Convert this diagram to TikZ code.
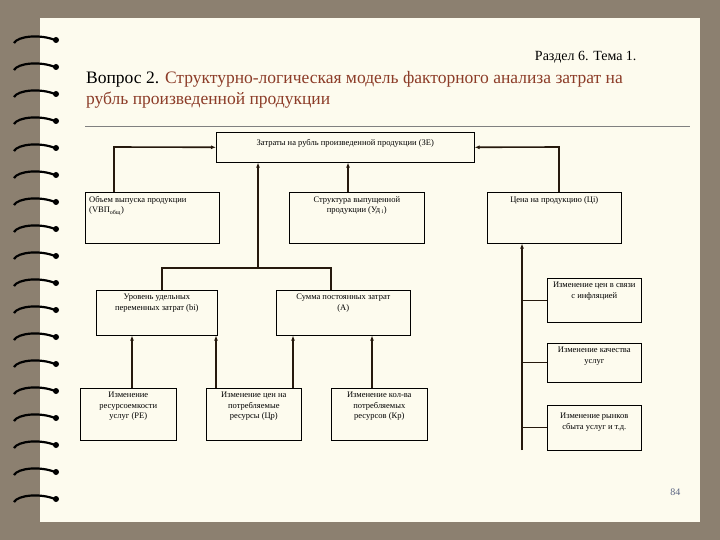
\documentclass[tikz,border=0pt]{standalone}
\usepackage{fontspec}
\setmainfont{Liberation Serif}
\usetikzlibrary{arrows.meta}
\begin{document}
\begin{tikzpicture}[x=1pt,y=-1pt,
 bx/.style={draw=black,fill=none,line width=0.6pt,inner sep=0pt,anchor=north west},
 tx/.style={anchor=north,align=center,font=\fontsize{8.5}{10.5}\selectfont,inner sep=0pt,yshift=-4pt},
 ln/.style={draw=black!80!brown,line width=1.6pt},
 ar/.style={ln,-{Latex[length=5pt,width=4pt]}}]
\useasboundingbox (0,0) rectangle (720,540);
\fill[color={rgb,255:red,140;green,128;blue,112}] (0,0) rectangle (720,540);
\fill[color={rgb,255:red,253;green,251;blue,238}] (40,18) rectangle (700,522);
\foreach \yy in {40,67,...,520}{
  \draw[line width=2.2pt,black] (55,\yy) .. controls (40,\yy-6) and (18,\yy-4) .. (14,\yy+3);
  \fill[black] (56,\yy) circle (3);
}
\node[anchor=east,font=\fontsize{14}{16}\selectfont] (sec) at (640,57) {Раздел 6. Тема 1.};
\node[anchor=west,font=\fontsize{17.5}{21}\selectfont,align=left,color={rgb,255:red,140;green,60;blue,40},inner sep=0pt] (q) at (86,90) {{\color{black}Вопрос 2.} Структурно-логическая модель факторного анализа затрат на\\рубль произведенной продукции};
\draw[gray,line width=0.6pt] (85,126) -- (690,126);
\node[bx,minimum width=258,minimum height=30] (top) at (216,132) {};
\node[tx,yshift=-3pt] (ttop) at (top.north) {Затраты на рубль произведенной продукции (ЗЕ)};
\node[bx,minimum width=134,minimum height=51] (vep) at (85,192) {};
\node[tx,anchor=north west,align=left] (tvep) at ([xshift=4pt]vep.north west) {Объем выпуска продукции\\(VВП\textsubscript{общ})};
\node[bx,minimum width=135,minimum height=51] (str) at (289,192) {};
\node[tx] (tstr) at (str.north) {Структура выпущенной\\продукции (Уд\textsubscript{ i})};
\node[bx,minimum width=134,minimum height=51] (cena) at (487,192) {};
\node[tx] (tcena) at (cena.north) {Цена на продукцию (Цi)};
\node[bx,minimum width=121,minimum height=45] (ur) at (96,290) {};
\node[tx] (tur) at (ur.north) {Уровень удельных\\переменных затрат (bi)};
\node[bx,minimum width=134,minimum height=45] (sum) at (276,290) {};
\node[tx] (tsum) at (sum.north) {Сумма постоянных затрат\\(А)};
\node[bx,minimum width=96,minimum height=52] (re) at (80,388) {};
\node[tx] (tre) at (re.north) {Изменение\\ресурсоемкости\\услуг (РЕ)};
\node[bx,minimum width=95,minimum height=52] (cr) at (206,388) {};
\node[tx] (tcr) at (cr.north) {Изменение цен на\\потребляемые\\ресурсы (Цр)};
\node[bx,minimum width=96,minimum height=52] (kr) at (331,388) {};
\node[tx] (tkr) at (kr.north) {Изменение кол-ва\\потребляемых\\ресурсов (Кр)};
\node[bx,minimum width=94,minimum height=44] (inf) at (547,278) {};
\node[tx] (tinf) at (inf.north) {Изменение цен в связи\\с инфляцией};
\node[bx,minimum width=94,minimum height=39] (kach) at (547,343) {};
\node[tx] (tkach) at (kach.north) {Изменение качества\\услуг};
\node[bx,minimum width=94,minimum height=45] (ryn) at (547,405) {};
\node[tx,yshift=-4pt] (tryn) at (ryn.north) {Изменение рынков\\сбыта услуг и т.д.};
\node[anchor=east,font=\fontsize{10}{11}\selectfont,color={rgb,255:red,90;green,100;blue,130}] (pg) at (684,492) {84};
% connectors
\coordinate (c1) at (114,147);
\coordinate (c2) at (559,147);
\coordinate (x348) at (348,0);
\coordinate (x258) at (258,268);
\coordinate (x132) at (132,0);
\coordinate (x216) at (216,0);
\coordinate (x293) at (293,0);
\coordinate (x372) at (372,0);
\draw[ar] (vep.north -| c1) -- (c1) -- (top.west);
\draw[ar] (cena.north -| c2) -- (c2) -- (top.east);
\draw[ar] (str.north -| x348) -- (top.south -| x348);
\coordinate (hl) at (162,268); \coordinate (hr) at (331,268);
\draw[ln] (ur.north -| hl) -- (hl) -- (hr) -- (sum.north -| hr);
\draw[ar] (x258) -- (top.south -| x258);
\draw[ar] (re.north -| x132) -- (ur.south -| x132);
\draw[ar] (cr.north -| x216) -- (ur.south -| x216);
\draw[ar] (cr.north -| x293) -- (sum.south -| x293);
\draw[ar] (kr.north -| x372) -- (sum.south -| x372);
\coordinate (tb) at (522,450);
\draw[ar] (tb) -- (cena.south -| tb);
\draw[ln,line width=0.8pt] (inf.west -| tb) -- (inf.west);
\draw[ln,line width=0.8pt] (kach.west -| tb) -- (kach.west);
\draw[ln,line width=0.8pt] (ryn.west -| tb) -- (ryn.west);
\end{tikzpicture}
\end{document}
